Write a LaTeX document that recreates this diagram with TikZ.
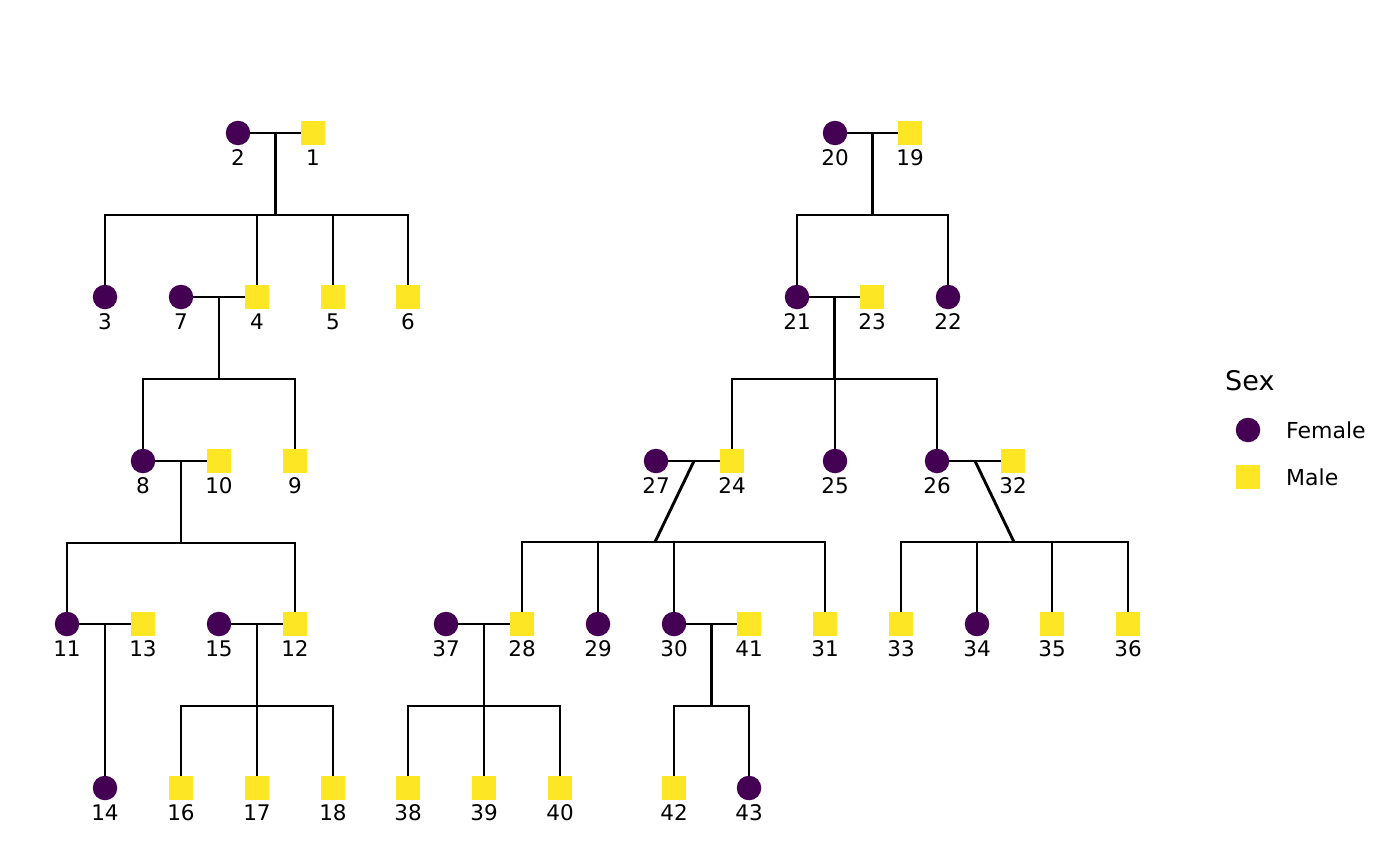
\documentclass[tikz,border=0pt]{standalone}
\usepackage{fontspec}
\setmainfont{DejaVu Sans}
\usetikzlibrary{calc}
\definecolor{fcol}{HTML}{440154}
\definecolor{mcol}{HTML}{FDE725}
\tikzset{
  fem/.style={circle, fill=fcol, minimum size=24.5pt, inner sep=0pt},
  mal/.style={rectangle, fill=mcol, minimum size=24.5pt, inner sep=0pt},
  lbl/.style={font=\fontsize{21.5}{21.5}\selectfont, text height=15.6pt, text depth=0pt, inner sep=0pt},
  legtxt/.style={font=\fontsize{22}{22}\selectfont, text height=16pt, text depth=0pt, inner sep=0pt, anchor=west},
  ln/.style={line width=2.9pt, line join=miter}
}
\newcommand\mkp[5]{\node[#4] (n#1) at (#2,#3) {}; \node[lbl] (l#1) at (#2,#3+24.5) {#5};}
\begin{document}
\begin{tikzpicture}[x=1pt,y=-1pt]
\useasboundingbox (0,0) rectangle (1400,865);
% row 1
\mkp{2}{238}{133}{fem}{2}
\mkp{1}{313}{133}{mal}{1}
\mkp{20}{835}{133}{fem}{20}
\mkp{19}{910}{133}{mal}{19}
% row 2
\mkp{3}{105}{297}{fem}{3}
\mkp{7}{181}{297}{fem}{7}
\mkp{4}{257}{297}{mal}{4}
\mkp{5}{333}{297}{mal}{5}
\mkp{6}{408}{297}{mal}{6}
\mkp{21}{797}{297}{fem}{21}
\mkp{23}{872}{297}{mal}{23}
\mkp{22}{948}{297}{fem}{22}
% row 3
\mkp{8}{143}{461}{fem}{8}
\mkp{10}{219}{461}{mal}{10}
\mkp{9}{295}{461}{mal}{9}
\mkp{27}{656}{461}{fem}{27}
\mkp{24}{732}{461}{mal}{24}
\mkp{25}{835}{461}{fem}{25}
\mkp{26}{937}{461}{fem}{26}
\mkp{32}{1013}{461}{mal}{32}
% row 4
\mkp{11}{67}{624}{fem}{11}
\mkp{13}{143}{624}{mal}{13}
\mkp{15}{219}{624}{fem}{15}
\mkp{12}{295}{624}{mal}{12}
\mkp{37}{446}{624}{fem}{37}
\mkp{28}{522}{624}{mal}{28}
\mkp{29}{598}{624}{fem}{29}
\mkp{30}{674}{624}{fem}{30}
\mkp{41}{749}{624}{mal}{41}
\mkp{31}{825}{624}{mal}{31}
\mkp{33}{901}{624}{mal}{33}
\mkp{34}{977}{624}{fem}{34}
\mkp{35}{1052}{624}{mal}{35}
\mkp{36}{1128}{624}{mal}{36}
% row 5
\mkp{14}{105}{788}{fem}{14}
\mkp{16}{181}{788}{mal}{16}
\mkp{17}{257}{788}{mal}{17}
\mkp{18}{333}{788}{mal}{18}
\mkp{38}{408}{788}{mal}{38}
\mkp{39}{484}{788}{mal}{39}
\mkp{40}{560}{788}{mal}{40}
\mkp{42}{674}{788}{mal}{42}
\mkp{43}{749}{788}{fem}{43}
% marriages
\foreach \f/\p/\q in {A/2/1, B/7/4, C/8/10, D/11/13, E/15/12, F/20/19, G/21/23, H/27/24, I/26/32, J/37/28, K/30/41}{
  \draw[ln] (n\p) -- (n\q);
  \coordinate (m\f) at ($(n\p)!0.5!(n\q)$);
}
% junctions on sibship lines
\foreach \f in {A,B,C,E,F,G,J,K}{
  \coordinate (j\f) at ($(m\f)+(0,82)$);
  \draw[ln] (m\f) -- (j\f);
}
\coordinate (jH) at (655,542);
\coordinate (jI) at (1014,542);
\draw[ln] (mH) -- (jH);
\draw[ln] (mI) -- (jI);
\draw[ln] (mD) -- (n14);
% sibships: family/first/last/inner children
\foreach \f/\a/\b/\inner in {A/3/6/{4,5}, B/8/9/{}, C/11/12/{}, E/16/18/{17}, F/21/22/{}, G/24/26/{25}, H/28/31/{29,30}, I/33/36/{34,35}, J/38/40/{39}, K/42/43/{}}{
  \draw[ln] (n\a) -- (n\a |- j\f) -- (n\b |- j\f) -- (n\b);
  \foreach \c in \inner { \draw[ln] (n\c |- j\f) -- (n\c); }
}
% legend
\node[legtxt, font=\fontsize{27}{27}\selectfont, text height=20pt] (legtitle) at (1225,380) {Sex};
\node[fem] (legf) at (1248,430) {};
\node[legtxt] (legft) at (1286,430) {Female};
\node[mal] (legm) at (1248,477) {};
\node[legtxt] (legmt) at (1286,477) {Male};
\end{tikzpicture}
\end{document}
